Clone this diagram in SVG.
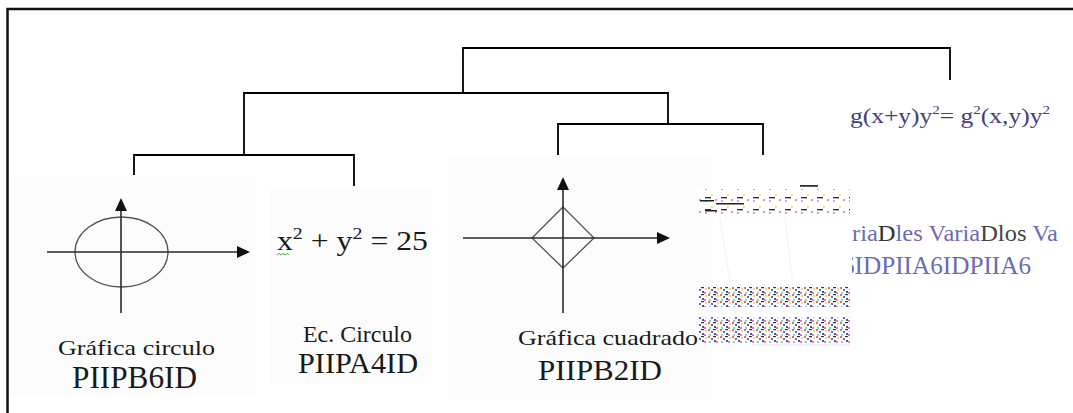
<svg xmlns="http://www.w3.org/2000/svg" width="1073" height="413" viewBox="0 0 1073 413">
<style>
.conn{fill:none;stroke:#000;stroke-width:1.8}
.axis{fill:none;stroke:#2a2a2a;stroke-width:1.6}
.shape{fill:none;stroke:#555;stroke-width:1.3}
.head{fill:#111}
.bg{fill:#fcfcfc}
.t{fill:#1a1a1a}
.tv{fill:#6c6cb4}
</style>
<defs>
<pattern id="noise" width="12" height="7" patternUnits="userSpaceOnUse">
<rect width="12" height="7" fill="#fff"/>
<circle cx="1" cy="1" r="1" fill="#e33"/>
<circle cx="4" cy="3" r="1" fill="#33c"/>
<circle cx="7" cy="5" r="1" fill="#222"/>
<circle cx="10" cy="2" r="1" fill="#dd3"/>
<circle cx="2" cy="6" r="0.9" fill="#3cc"/>
<circle cx="9" cy="6" r="0.9" fill="#c3c"/>
<rect x="5" y="0" width="3" height="1.2" fill="#333"/>
</pattern>
<pattern id="noise2" width="16" height="12" patternUnits="userSpaceOnUse">
<rect width="16" height="12" fill="#fff"/>
<circle cx="2" cy="9" r="0.9" fill="#f5a"/>
<circle cx="5" cy="6" r="0.9" fill="#5cf"/>
<circle cx="8" cy="3" r="0.9" fill="#dd4"/>
<circle cx="12" cy="8" r="0.9" fill="#f55"/>
<rect x="1" y="5" width="6" height="1.3" fill="#333"/>
</pattern>
<clipPath id="clipR"><rect x="852" y="200" width="210" height="90"/></clipPath>
</defs>

<rect width="1073" height="413" fill="#fff"/>
<path d="M7.5,413 V9 H1073" fill="none" stroke="#111" stroke-width="2.5"/>

<g id="connectors">
<path class="conn" d="M463,93 V48 H950 V80"/>
<path class="conn" d="M244,155 V93 H668 V124"/>
<path class="conn" d="M134,186 V155 H354 V186"/>
<path class="conn" d="M558,155 V124 H763 V155"/>
</g>

<g font-family="'Liberation Serif', 'Times New Roman', serif">
<g id="node-grafica-circulo">
<rect class="bg" x="10" y="175" width="247" height="223"/>
<ellipse class="shape" cx="121.5" cy="252" rx="46.5" ry="35"/>
<line class="axis" x1="47" y1="252" x2="240" y2="252"/>
<polygon class="head" points="250,252 237,246 237,258"/>
<line class="axis" x1="121" y1="313" x2="121" y2="208"/>
<polygon class="head" points="121,198 115,211 127,211"/>
<text class="t" x="58" y="355" font-size="22" textLength="157" lengthAdjust="spacingAndGlyphs">Gráfica circulo</text>
<text class="t" x="72" y="388" font-size="31" textLength="125" lengthAdjust="spacingAndGlyphs">PIIPB6ID</text>
</g>

<g id="node-ec-circulo">
<rect class="bg" x="270" y="187" width="161" height="196"/>
<text class="t" x="277" y="250" font-size="27" textLength="151" lengthAdjust="spacingAndGlyphs">x<tspan font-size="17" dy="-11">2</tspan><tspan dy="11"> + y</tspan><tspan font-size="17" dy="-11">2</tspan><tspan dy="11"> = 25</tspan></text>
<path d="M277,255 l2,-1.5 l2,1.5 l2,-1.5 l2,1.5 l2,-1.5 l2,1.5" fill="none" stroke="#3a3" stroke-width="0.9"/>
<text class="t" x="303" y="342" font-size="24" textLength="109" lengthAdjust="spacingAndGlyphs">Ec. Circulo</text>
<text class="t" x="298" y="373" font-size="30" textLength="120" lengthAdjust="spacingAndGlyphs">PIIPA4ID</text>
</g>

<g id="node-grafica-cuadrado">
<rect class="bg" x="449" y="155" width="264" height="245"/>
<polygon class="shape" points="563,207 594,238 563,268 532,238"/>
<line class="axis" x1="463" y1="238" x2="660" y2="238"/>
<polygon class="head" points="670,238 657,232 657,244"/>
<line class="axis" x1="563" y1="313" x2="563" y2="187"/>
<polygon class="head" points="563,177 557,190 569,190"/>
<text class="t" x="518" y="345" font-size="22" textLength="180" lengthAdjust="spacingAndGlyphs">Gráfica cuadrado</text>
<text class="t" x="538" y="380" font-size="30" textLength="124" lengthAdjust="spacingAndGlyphs">PIIPB2ID</text>
</g>

<g id="node-garbled">
<rect x="800" y="185" width="18" height="1.8" fill="#333"/>
<rect x="699" y="189" width="151" height="28" fill="url(#noise2)"/>
<rect x="700" y="200" width="14" height="1.5" fill="#222"/>
<rect x="716" y="203" width="28" height="1.5" fill="#222"/>
<rect x="705" y="210" width="12" height="1.5" fill="#222"/>
<line x1="720" y1="218" x2="740" y2="345" stroke="#eee" stroke-width="0.8"/>
<line x1="785" y1="218" x2="800" y2="345" stroke="#eee" stroke-width="0.8"/>
<rect x="699" y="287" width="151" height="20" fill="url(#noise)"/>
<rect x="699" y="317" width="151" height="26" fill="url(#noise)"/>
<line x1="752" y1="345" x2="850" y2="345" stroke="#f6d6f6" stroke-width="1"/>
</g>

<g id="node-variables">
<text x="850" y="123" font-size="22" textLength="200" lengthAdjust="spacingAndGlyphs" fill="#40407e">g(x+y)y<tspan font-size="13" dy="-9">2</tspan><tspan dy="9">= g</tspan><tspan font-size="13" dy="-9">2</tspan><tspan dy="9">(x,y)y</tspan><tspan font-size="13" dy="-9">2</tspan></text>
<g clip-path="url(#clipR)">
<text class="tv" x="852" y="241" font-size="24" textLength="206" lengthAdjust="spacingAndGlyphs">ria<tspan fill="#333">D</tspan>les Varia<tspan fill="#444">Dlos</tspan> Va</text>
<text class="tv" x="842" y="274" font-size="25" textLength="189" lengthAdjust="spacingAndGlyphs">6IDPIIA6IDPIIA6</text>
</g>
</g>
</g>
</svg>
